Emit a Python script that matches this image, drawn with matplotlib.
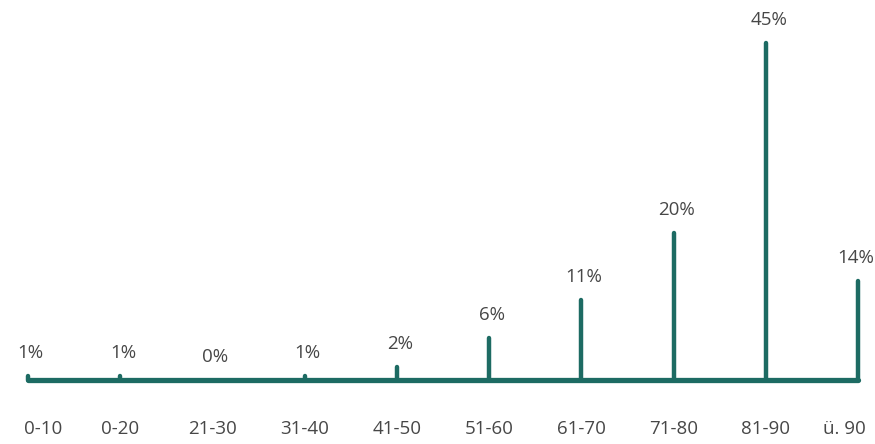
import matplotlib
matplotlib.use("Agg")
import matplotlib.pyplot as plt

# age groups and share of cases
categories = ["0-10", "0-20", "21-30", "31-40", "41-50", "51-60",
              "61-70", "71-80", "81-90", "ü. 90"]
values = [0.5, 0.5, 0.0, 0.5, 1.7, 5.6, 10.7, 19.6, 45.0, 13.2]
labels = ["1%", "1%", "0%", "1%", "2%", "6%", "11%", "20%", "45%", "14%"]

teal = "#1d6b63"
grey = "#474747"
plt.rcParams["font.family"] = ["Open Sans", "DejaVu Sans"]

fig = plt.figure(figsize=(8.75, 4.44), dpi=100)
ax = fig.add_axes([0, 0, 1, 1])
ax.set_xlim(-0.3036, 9.184)
ax.set_ylim(-8.55, 50.73)
ax.axis("off")

xs = list(range(len(categories)))
ax.plot([xs[0], xs[-1]], [0, 0], color=teal, lw=3.8,
        solid_capstyle="round", zorder=2)
for x, v, lab, cat in zip(xs, values, labels, categories):
    if v > 0:
        ax.plot([x, x], [0, v], color=teal, lw=3.2,
                solid_capstyle="round", zorder=3)
    # last label sits against the right edge, keep it inside
    dx = -0.03 if x == xs[-1] else 0.03
    ax.text(x + dx, v + 3.1, lab, ha="center", va="center",
            fontsize=13.5, color=grey)
    ha = "center"
    xt = x
    if x == xs[0]:
        ha, xt = "left", x - 0.04
    elif x == xs[-1]:
        ha, xt = "right", x + 0.08
    ax.text(xt, -6.6, cat, ha=ha, va="center", fontsize=13.5, color=grey)

fig.savefig("out.png", dpi=100)
